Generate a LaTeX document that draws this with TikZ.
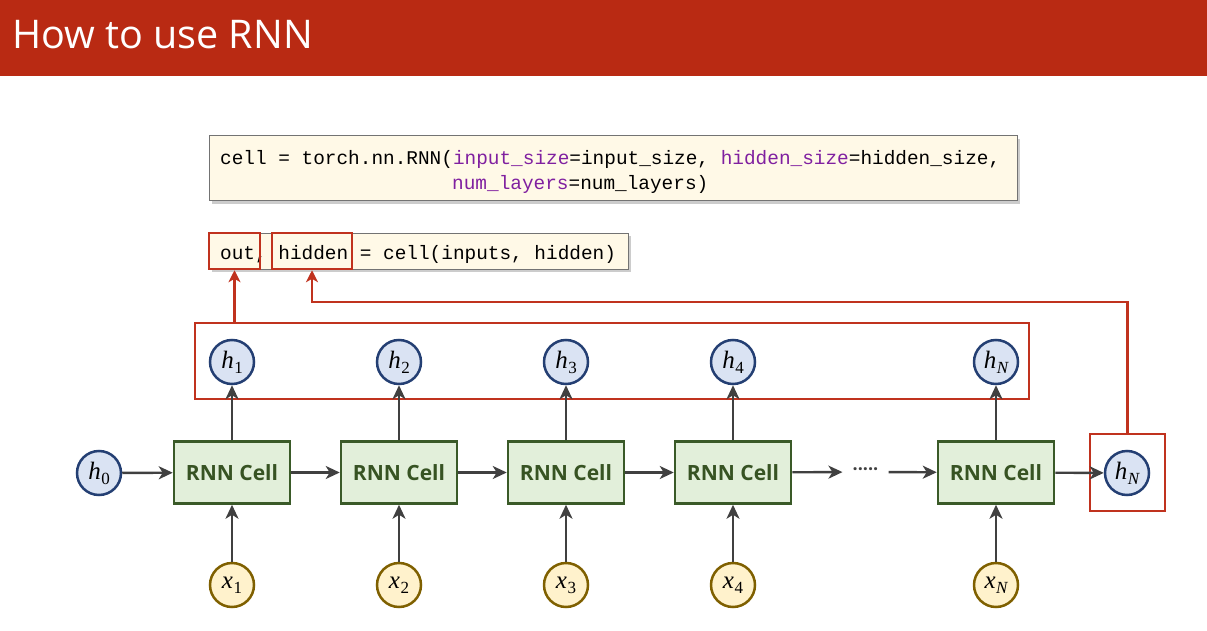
\documentclass[tikz,border=0pt]{standalone}
\usepackage{fontspec}
\newfontfamily\osans{Open Sans}
\newfontfamily\codefnt{Liberation Mono}
\newfontfamily\mathfnt{Liberation Serif}
\usetikzlibrary{arrows.meta,shadows,calc}
\newcommand\varsub[2]{{\itshape #1}\kern0.5pt\raisebox{-5pt}{\fontsize{17}{18}\selectfont #2}}
\definecolor{titlered}{RGB}{185,42,19}
\definecolor{hlred}{RGB}{192,50,30}
\definecolor{codebg}{RGB}{255,249,231}
\definecolor{kw}{RGB}{128,32,160}
\definecolor{cellfill}{RGB}{226,239,218}
\definecolor{celldraw}{RGB}{58,90,40}
\definecolor{celltext}{RGB}{55,83,35}
\definecolor{hfill}{RGB}{218,227,243}
\definecolor{hdraw}{RGB}{36,63,115}
\definecolor{xfill}{RGB}{255,242,204}
\definecolor{xdraw}{RGB}{127,96,0}
\definecolor{arrgray}{RGB}{64,64,64}
\tikzset{
  codebox/.style={draw=black!55, line width=1pt, fill=codebg, inner sep=0,
    drop shadow={shadow xshift=3pt, shadow yshift=-3pt, fill=black!40, opacity=0.5}},
  codetext/.style={anchor=base west, inner sep=0, font=\codefnt\fontsize{19.4}{22}\selectfont},
  redbox/.style={draw=hlred, line width=2.5pt, inner sep=0},
  rnncell/.style={draw=celldraw, fill=cellfill, line width=2.5pt, minimum width=116pt,
    minimum height=62pt, inner sep=0, text=celltext, font=\osans\bfseries\fontsize{21}{23}\selectfont},
  hnode/.style={circle, draw=hdraw, fill=hfill, line width=2.5pt, minimum size=44pt, inner sep=0,
    font=\mathfnt\fontsize{25}{27}\selectfont},
  xnode/.style={circle, draw=xdraw, fill=xfill, line width=2.5pt, minimum size=44pt, inner sep=0,
    font=\mathfnt\fontsize{25}{27}\selectfont},
  flow/.style={draw=arrgray, line width=2.4pt, -{Stealth[length=14pt,width=13pt,inset=4pt]}},
  redarrow/.style={draw=hlred, line width=2.5pt, -{Stealth[length=12pt,width=12pt,inset=3.5pt]}}
}
\begin{document}
\begin{tikzpicture}[x=1pt,y=-1pt]
\useasboundingbox (0,0) rectangle (1207,631);
% title bar
\fill[titlered] (0,0) rectangle (1207,76);
\node[anchor=base west, text=white, inner sep=0, font=\osans\fontsize{39.5}{42}\selectfont] (title) at (12,49) {How to use RNN};
% code box 1
\node[codebox, minimum width=808pt, minimum height=65pt] (code1) at (613,168.5) {};
\node[codetext] (l1) at (220,165) {cell = torch.nn.RNN(\textcolor{kw}{input\_size}=input\_size, \textcolor{kw}{hidden\_size}=hidden\_size,};
\node[codetext] (l2) at (452,190) {\textcolor{kw}{num\_layers}=num\_layers)};
% code box 2
\node[codebox, minimum width=419pt, minimum height=36pt] (code2) at (418.5,251) {};
\node[codetext] (l3) at (220,259) {out, hidden = cell(inputs, hidden)};
\node[redbox, minimum width=51pt, minimum height=36pt] (outbox) at (234.5,251) {};
\node[redbox, minimum width=80pt, minimum height=36pt] (hidbox) at (312,251) {};
% outputs box
\node[redbox, minimum width=834pt, minimum height=76pt] (outs) at (612,361) {};
% cells
\node[hnode] (h0) at (99,473) {\varsub{h}{0}};
\foreach \i/\x/\s in {1/232/1,2/399/2,3/566/3,4/733/4,N/996/\itshape N}{
  \node[rnncell] (c\i) at (\x,472.5) {RNN Cell};
  \node[hnode] (h\i) at (\x,362) {\varsub{h}{\s}};
  \node[xnode] (x\i) at (\x,585) {\varsub{x}{\s}};
  \draw[flow] (x\i) -- (c\i);
  \draw[flow] (c\i) -- (h\i);
}
\node[inner sep=0, inner xsep=10pt, text=arrgray, font=\osans\bfseries\fontsize{18}{20}\selectfont] (dots) at (865.5,472) {·····};
\node[hnode] (hlast) at (1127,473) {\varsub{h}{\itshape N}};
\node[redbox, minimum width=75pt, minimum height=77pt] (hlbox) at (1127.5,472.5) {};
\draw[flow] (h0) -- (c1);
\draw[flow] (c1) -- (c2);
\draw[flow] (c2) -- (c3);
\draw[flow] (c3) -- (c4);
\draw[flow] (c4) -- (dots);
\draw[flow] (dots) -- (cN);
\draw[flow] (cN) -- (hlast);
% red arrows
\draw[redarrow] (outbox.south |- outs.north) -- (outbox.south);
\coordinate (turn) at (1129,302);
\draw[redarrow] (hlbox.north) -- (hlbox.north |- turn) -| (hidbox.south);
\end{tikzpicture}
\end{document}
